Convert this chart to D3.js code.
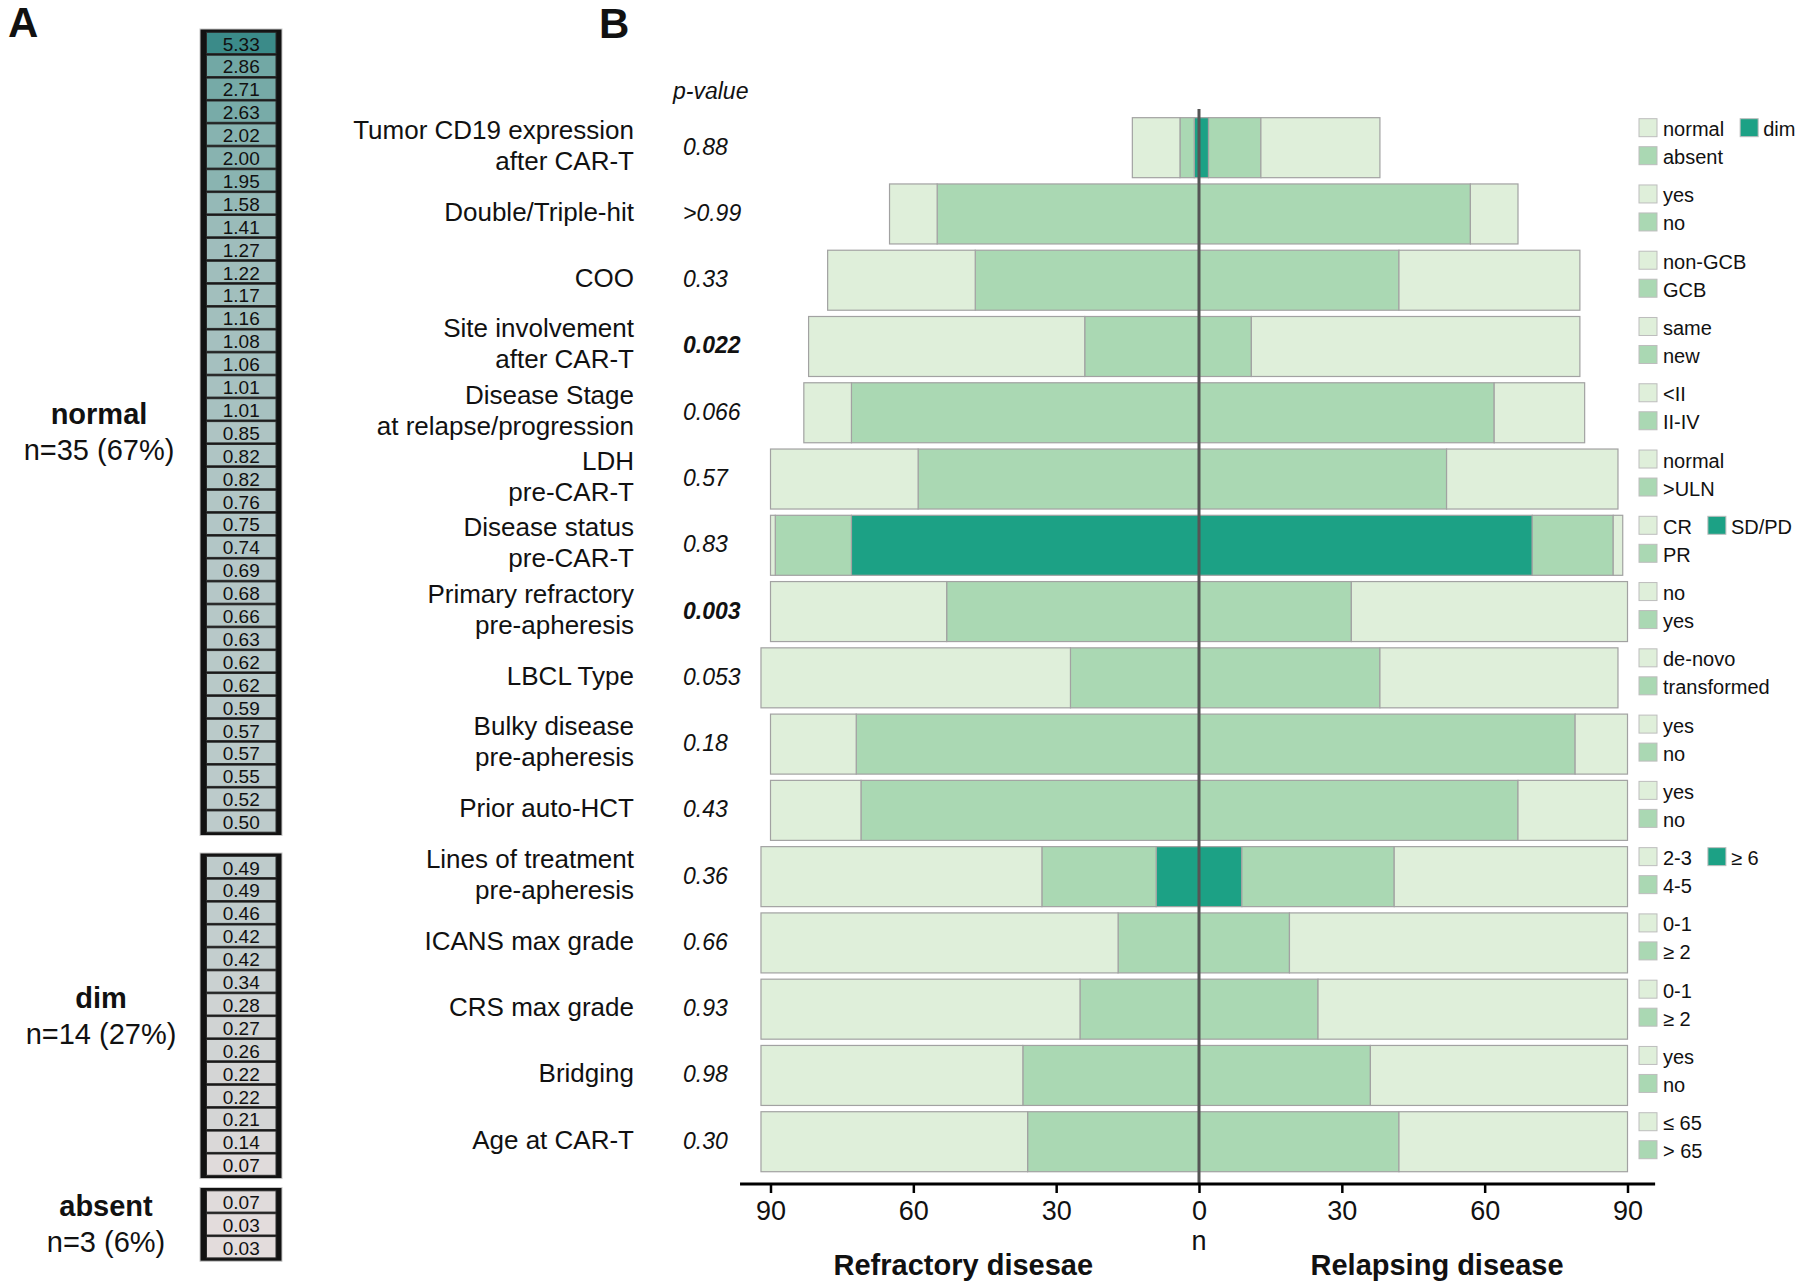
<!DOCTYPE html>
<html><head><meta charset="utf-8">
<script src="https://cdn.jsdelivr.net/npm/d3@7"></script>
<style>
body{margin:0;background:#fff}
svg{display:block}
text{font-family:"Liberation Sans",Arial,Helvetica,sans-serif;fill:#111}
</style>
</head><body>
<svg id="chart" width="1800" height="1287"></svg>
<script>
// ---------- Panel A data ----------
const normalValues = [5.33,2.86,2.71,2.63,2.02,2.00,1.95,1.58,1.41,1.27,1.22,1.17,1.16,1.08,1.06,1.01,1.01,0.85,0.82,0.82,0.76,0.75,0.74,0.69,0.68,0.66,0.63,0.62,0.62,0.59,0.57,0.57,0.55,0.52,0.50];
const dimValues = [0.49,0.49,0.46,0.42,0.42,0.34,0.28,0.27,0.26,0.22,0.22,0.21,0.14,0.07];
const absentValues = [0.07,0.03,0.03];
const groupNames = ["normal","dim","absent"];
const groupCounts = ["n=35 (67%)","n=14 (27%)","n=3 (6%)"];

// ---------- Panel B data ----------
const categories = [
  "Tumor CD19 expression\nafter CAR-T","Double/Triple-hit","COO","Site involvement\nafter CAR-T",
  "Disease Stage\nat relapse/progression","LDH\npre-CAR-T","Disease status\npre-CAR-T",
  "Primary refractory\npre-apheresis","LBCL Type","Bulky disease\npre-apheresis","Prior auto-HCT",
  "Lines of treatment\npre-apheresis","ICANS max grade","CRS max grade","Bridging","Age at CAR-T"];
const pValues = ["0.88",">0.99","0.33","0.022","0.066","0.57","0.83","0.003","0.053","0.18","0.43","0.36","0.66","0.93","0.98","0.30"];
const pSignificant = [false,false,false,true,false,false,false,true,false,false,false,false,false,false,false,false];
// counts, refractory disease (left side)
const refractoryLight  = [10,10,31,58,10,31, 1,37,65,18,19,59,75,67,55,56];
const refractoryMedium = [ 3,55,47,24,73,59,16,53,27,72,71,24,17,25,37,36];
const refractoryDark   = [ 1, 0, 0, 0, 0, 0,73, 0, 0, 0, 0, 9, 0, 0, 0, 0];
// counts, relapsing disease (right side)
const relapsingLight   = [25,10,38,69,19,36, 2,58,50,11,23,49,71,65,54,48];
const relapsingMedium  = [11,57,42,11,62,52,17,32,38,79,67,32,19,25,36,42];
const relapsingDark    = [ 2, 0, 0, 0, 0, 0,70, 0, 0, 0, 0, 9, 0, 0, 0, 0];
// legend labels per row
const legendLight  = ["normal","yes","non-GCB","same","<II","normal","CR","no","de-novo","yes","yes","2-3","0-1","0-1","yes","≤ 65"];
const legendMedium = ["absent","no","GCB","new","II-IV",">ULN","PR","yes","transformed","no","no","4-5","≥ 2","≥ 2","no","> 65"];
const legendDark   = ["dim","","","","","","SD/PD","","","","","≥ 6","","","",""];
const tickValues = [-90,-60,-30,0,30,60,90];

const colLight = "#dfefda", colMedium = "#aad8b3", colDark = "#1ca185", barStroke = "#a2a2a2";

const svg = d3.select("#chart");

// ================= Panel A =================
svg.append("text").attr("x",8).attr("y",37).attr("font-size",42).attr("font-weight","bold").text("A");
const heatColor = d3.scaleLinear()
  .domain([0.03,0.5,1.0,2.0,2.86,5.33])
  .range(["#e3dcdc","#bdcbcb","#a7c1c0","#88b3b0","#72a8a5","#3b8b89"]);
const cellPitch = 22.9;
const groups = [
  {vals: normalValues, top: 31.5},
  {vals: dimValues, top: 855.5},
  {vals: absentValues, top: 1190}
];
const colX0 = 200, colX1 = 282, cellX0 = 206.5, cellX1 = 276;
groups.forEach((g,gi)=>{
  const gy = d3.scaleBand().domain(d3.range(g.vals.length))
    .range([g.top, g.top + g.vals.length*cellPitch]);
  const grp = svg.append("g");
  grp.append("rect").attr("x",colX0).attr("y",g.top-2.5).attr("width",colX1-colX0)
    .attr("height",g.vals.length*cellPitch+5).attr("fill","#121212").attr("stroke","#c8c8c8").attr("stroke-width",1);
  grp.selectAll("rect.cell").data(g.vals).join("rect").attr("class","cell")
    .attr("x",cellX0).attr("width",cellX1-cellX0)
    .attr("y",(d,i)=>gy(i)+0.8).attr("height",gy.bandwidth()-1.6)
    .attr("fill",d=>heatColor(d)).attr("stroke","#2a2a2a").attr("stroke-width",1);
  grp.selectAll("text.v").data(g.vals).join("text").attr("class","v")
    .attr("x",(cellX0+cellX1)/2).attr("y",(d,i)=>gy(i)+19)
    .attr("text-anchor","middle").attr("font-size",19).text(d=>d.toFixed(2));
  const mid = g.top + g.vals.length*cellPitch/2;
  const cx = gi===2 ? 106 : (gi===1 ? 101 : 99);
  svg.append("text").attr("x",cx).attr("y",mid-8).attr("text-anchor","middle")
    .attr("font-size",29).attr("font-weight","bold").text(groupNames[gi]);
  svg.append("text").attr("x",cx).attr("y",mid+28).attr("text-anchor","middle")
    .attr("font-size",29).text(groupCounts[gi]);
});

// ================= Panel B =================
svg.append("text").attr("x",599).attr("y",38).attr("font-size",42).attr("font-weight","bold").text("B");

const x = d3.scaleLinear().domain([-90,90]).range([770.5,1627.5]);
const y = d3.scaleBand().domain(d3.range(categories.length))
  .range([114.55,1174.85]).paddingInner(0.0946).paddingOuter(0.0473);
const axisY = 1184;

// bars
const rows = categories.map((c,i)=>({
  i,
  left: [refractoryDark[i], refractoryMedium[i], refractoryLight[i]],
  right:[relapsingDark[i], relapsingMedium[i], relapsingLight[i]]
}));
const fills = [colDark, colMedium, colLight];
const segs = [];
rows.forEach(r=>{
  let s=0;
  r.left.forEach((v,k)=>{ if(v>0) segs.push({i:r.i,a:-(s+v),b:-s,k}); s+=v; });
  s=0;
  r.right.forEach((v,k)=>{ if(v>0) segs.push({i:r.i,a:s,b:s+v,k}); s+=v; });
});
svg.append("g").selectAll("rect").data(segs).join("rect")
  .attr("x",d=>x(d.a)).attr("width",d=>x(d.b)-x(d.a))
  .attr("y",d=>y(d.i)).attr("height",y.bandwidth())
  .attr("fill",d=>fills[d.k]).attr("stroke",barStroke).attr("stroke-width",1.2);

// centre line
svg.append("line").attr("x1",x(0)).attr("x2",x(0)).attr("y1",109).attr("y2",axisY)
  .attr("stroke","#555").attr("stroke-width",3);

// axis
const axis = d3.axisBottom(x).tickValues(tickValues).tickFormat(d=>Math.abs(d))
  .tickSizeInner(9).tickSizeOuter(0).tickPadding(8);
const ag = svg.append("g").attr("transform",`translate(0,${axisY})`).call(axis);
ag.select(".domain").remove();
ag.insert("line",":first-child").attr("x1",x(-96.4)).attr("x2",x(95.8)).attr("y1",0).attr("y2",0)
  .attr("stroke","#000").attr("stroke-width",3);
ag.selectAll(".tick line").attr("stroke","#000").attr("stroke-width",2.5);
ag.selectAll(".tick text").attr("font-size",27).attr("fill","#111")
  .attr("font-family","'Liberation Sans',Arial,sans-serif");
svg.append("text").attr("x",x(0)).attr("y",1250).attr("text-anchor","middle").attr("font-size",27).text("n");
svg.append("text").attr("x",x(-49.5)).attr("y",1275).attr("text-anchor","middle")
  .attr("font-size",29).attr("font-weight","bold").text("Refractory disesae");
svg.append("text").attr("x",x(50)).attr("y",1275).attr("text-anchor","middle")
  .attr("font-size",29).attr("font-weight","bold").text("Relapsing disease");

// category labels
const labelX = 634;
categories.forEach((c,i)=>{
  const lines = c.split("\n");
  const cy = y(i)+y.bandwidth()/2;
  const t = svg.append("text").attr("text-anchor","end").attr("font-size",26);
  if(lines.length===1){
    t.attr("x",labelX).attr("y",cy+7).text(lines[0]);
  } else {
    t.append("tspan").attr("x",labelX).attr("y",cy-9).text(lines[0]);
    t.append("tspan").attr("x",labelX).attr("y",cy+22).text(lines[1]);
  }
});

// p-values
svg.append("text").attr("x",673).attr("y",99).attr("font-size",23).attr("font-style","italic").text("p-value");
svg.append("g").selectAll("text").data(pValues).join("text")
  .attr("x",683).attr("y",(d,i)=>y(i)+y.bandwidth()/2+7)
  .attr("font-size",23).attr("font-style","italic")
  .attr("font-weight",(d,i)=>pSignificant[i]?"bold":"normal").text(d=>d);

// legends
const sq = 18, lgX = 1639, txtOff = 24;
categories.forEach((c,i)=>{
  const top = y(i)+1;
  const items = [
    {lab: legendLight[i], col: colLight, x: lgX, y: top},
    {lab: legendMedium[i], col: colMedium, x: lgX, y: top+28}
  ];
  items.forEach(it=>{
    svg.append("rect").attr("x",it.x).attr("y",it.y).attr("width",sq).attr("height",sq)
      .attr("fill",it.col).attr("stroke","#bdbdbd").attr("stroke-width",1);
    it.node = svg.append("text").attr("x",it.x+txtOff).attr("y",it.y+sq/2+8.5)
      .attr("font-size",20).attr("fill","#222").text(it.lab);
  });
  if(legendDark[i]){
    const w = items[0].node.node().getComputedTextLength();
    const dx = lgX + txtOff + w + 16;
    svg.append("rect").attr("x",dx).attr("y",top).attr("width",sq).attr("height",sq)
      .attr("fill",colDark).attr("stroke","#bdbdbd").attr("stroke-width",1);
    svg.append("text").attr("x",dx+sq+5).attr("y",top+sq/2+8.5)
      .attr("font-size",20).attr("fill","#222").text(legendDark[i]);
  }
});
</script>
</body></html>
